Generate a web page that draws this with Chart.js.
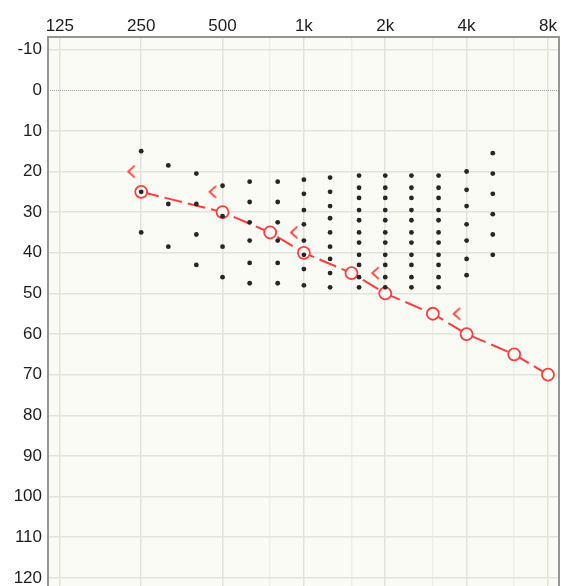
<!DOCTYPE html>
<html>
<head>
<meta charset="utf-8">
<script src="https://cdn.jsdelivr.net/npm/chart.js@4.4.1/dist/chart.umd.min.js"></script>
<style>
  body { margin: 0; background: #fff; }
  canvas { display: block; }
</style>
</head>
<body>
<canvas id="audiogram" width="561" height="586"></canvas>
<script>
// grid / tick frequencies (Hz); only octaves get a label
const gridFreqs = [125, 250, 500, 750, 1000, 1500, 2000, 3000, 4000, 6000, 8000];
const freqLabels = {125: '125', 250: '250', 500: '500', 1000: '1k', 2000: '2k', 4000: '4k', 8000: '8k'};
const dbTicks = [-10, 0, 10, 20, 30, 40, 50, 60, 70, 80, 90, 100, 110, 120];

// right ear air conduction (O)
const airFreqs = [250, 500, 750, 1000, 1500, 2000, 3000, 4000, 6000, 8000];
const airLevels = [25, 30, 35, 40, 45, 50, 55, 60, 65, 70];

// right ear bone conduction, unmasked (<)
const boneFreqs = [250, 500, 1000, 2000, 4000];
const boneLevels = [20, 25, 35, 45, 55];

// count-the-dots speech area
const speechFreqs = [250, 315, 400, 500, 630, 800, 1000, 1250, 1600, 2000, 2500, 3150, 4000, 5000];
const speechLevels = [
  [15, 25, 35],
  [18.5, 28, 38.5],
  [20.5, 28, 35.5, 43],
  [23.5, 31, 38.5, 46],
  [22.5, 27.5, 32.5, 37, 42.5, 47.5],
  [22.5, 27.5, 32.5, 37, 42.5, 47.5],
  [22, 25.5, 29.5, 33, 37, 40.5, 44, 48],
  [21.5, 25, 28.5, 31.5, 35, 38.5, 41.5, 45, 48.5],
  [21, 24, 26.5, 29.5, 32, 35, 37.5, 40.5, 43, 46, 48.5],
  [21, 24, 26.5, 29.5, 32, 35, 37.5, 40.5, 43, 46, 48.5],
  [21, 24, 26.5, 29.5, 32, 35, 37.5, 40.5, 43, 46, 48.5],
  [21, 24, 26.5, 29.5, 32, 35, 37.5, 40.5, 43, 46, 48.5],
  [20, 24.5, 28.5, 33, 37, 41.5, 45.5],
  [15.5, 20.5, 25.5, 30.5, 35.5, 40.5]
];

const RED = '#ff3b3b';
const PLOT_BG = '#fbfbf6';

const speechPoints = [];
speechFreqs.forEach((f, i) => {
  speechLevels[i].forEach(db => speechPoints.push({x: f, y: db}));
});

// "<" symbol, drawn left of its point like an audiogram bone mark
function boneSymbol() {
  const c = document.createElement('canvas');
  c.width = 30;
  c.height = 14;
  const g = c.getContext('2d');
  g.strokeStyle = RED;
  g.lineWidth = 1.8;
  g.beginPath();
  g.moveTo(8.5, 1.2);
  g.lineTo(2, 7);
  g.lineTo(8.5, 12.8);
  g.stroke();
  return c;
}

const framePlugin = {
  id: 'frame',
  beforeDraw(chart) {
    const {ctx, chartArea: a} = chart;
    ctx.save();
    ctx.fillStyle = PLOT_BG;
    ctx.fillRect(a.left, a.top, a.right - a.left, a.bottom - a.top);
    ctx.restore();
  },
  beforeDatasetsDraw(chart) {
    const {ctx, chartArea: a} = chart;
    const y0 = chart.scales.y.getPixelForValue(0);
    ctx.save();
    ctx.strokeStyle = '#a0a0a0';
    ctx.lineWidth = 1;
    ctx.setLineDash([1, 1]);
    ctx.beginPath();
    ctx.moveTo(a.left, Math.round(y0) + 0.5);
    ctx.lineTo(a.right, Math.round(y0) + 0.5);
    ctx.stroke();
    ctx.restore();
  },
  afterDraw(chart) {
    const {ctx, chartArea: a} = chart;
    ctx.save();
    ctx.strokeStyle = '#959595';
    ctx.lineWidth = 2;
    ctx.beginPath();
    ctx.moveTo(a.left, a.bottom + 2);
    ctx.lineTo(a.left, a.top);
    ctx.lineTo(a.right, a.top);
    ctx.lineTo(a.right, a.bottom + 2);
    ctx.stroke();
    ctx.restore();
  }
};

new Chart(document.getElementById('audiogram'), {
  type: 'scatter',
  data: {
    datasets: [
      {
        label: 'Speech',
        data: speechPoints,
        pointRadius: 2.4,
        pointBackgroundColor: '#262626',
        pointBorderWidth: 0,
        showLine: false,
        order: 0
      },
      {
        label: 'Air',
        data: airFreqs.map((f, i) => ({x: f, y: airLevels[i]})),
        showLine: true,
        borderColor: RED,
        borderWidth: 2,
        borderDash: [18, 6],
        pointStyle: 'circle',
        pointRadius: 6,
        pointBorderWidth: 1.8,
        pointBorderColor: RED,
        pointBackgroundColor: PLOT_BG,
        order: 1
      },
      {
        label: 'Bone',
        data: boneFreqs.map((f, i) => ({x: f, y: boneLevels[i]})),
        showLine: false,
        pointStyle: boneSymbol(),
        order: 2
      }
    ]
  },
  options: {
    responsive: false,
    animation: false,
    layout: { autoPadding: false, padding: { left: 0, right: 2, top: 0, bottom: 0 } },
    plugins: {
      legend: { display: false },
      tooltip: { enabled: false }
    },
    scales: {
      x: {
        type: 'logarithmic',
        position: 'top',
        min: 113,
        max: 8790,
        afterBuildTicks: s => { s.ticks = gridFreqs.map(v => ({value: v})); },
        afterFit: s => { s.height = 37; s.paddingLeft = 0; s.paddingRight = 0; },
        border: { display: false },
        grid: {
          drawTicks: false,
          lineWidth: 1.5,
          color: ctx => (ctx.tick && freqLabels[ctx.tick.value]) ? '#e3e3de' : '#ededE9'
        },
        ticks: {
          autoSkip: false,
          maxRotation: 0,
          padding: 0,
          color: '#1e1e1e',
          font: { family: 'Liberation Sans, Arial, sans-serif', size: 17 },
          callback: v => freqLabels[v] || ''
        }
      },
      y: {
        type: 'linear',
        reverse: true,
        min: -13.1,
        max: 122,
        afterBuildTicks: s => { s.ticks = dbTicks.map(v => ({value: v})); },
        afterFit: s => { s.width = 48; s.paddingTop = 0; s.paddingBottom = 0; },
        border: { display: false },
        grid: {
          drawTicks: false,
          lineWidth: 1.5,
          color: ctx => (ctx.tick && ctx.tick.value === 0) ? 'rgba(0,0,0,0)' : '#e3e3de'
        },
        ticks: {
          autoSkip: false,
          padding: 6,
          color: '#1e1e1e',
          font: { family: 'Liberation Sans, Arial, sans-serif', size: 17 },
          callback: v => String(v)
        }
      }
    }
  },
  plugins: [framePlugin]
});
</script>
</body>
</html>
